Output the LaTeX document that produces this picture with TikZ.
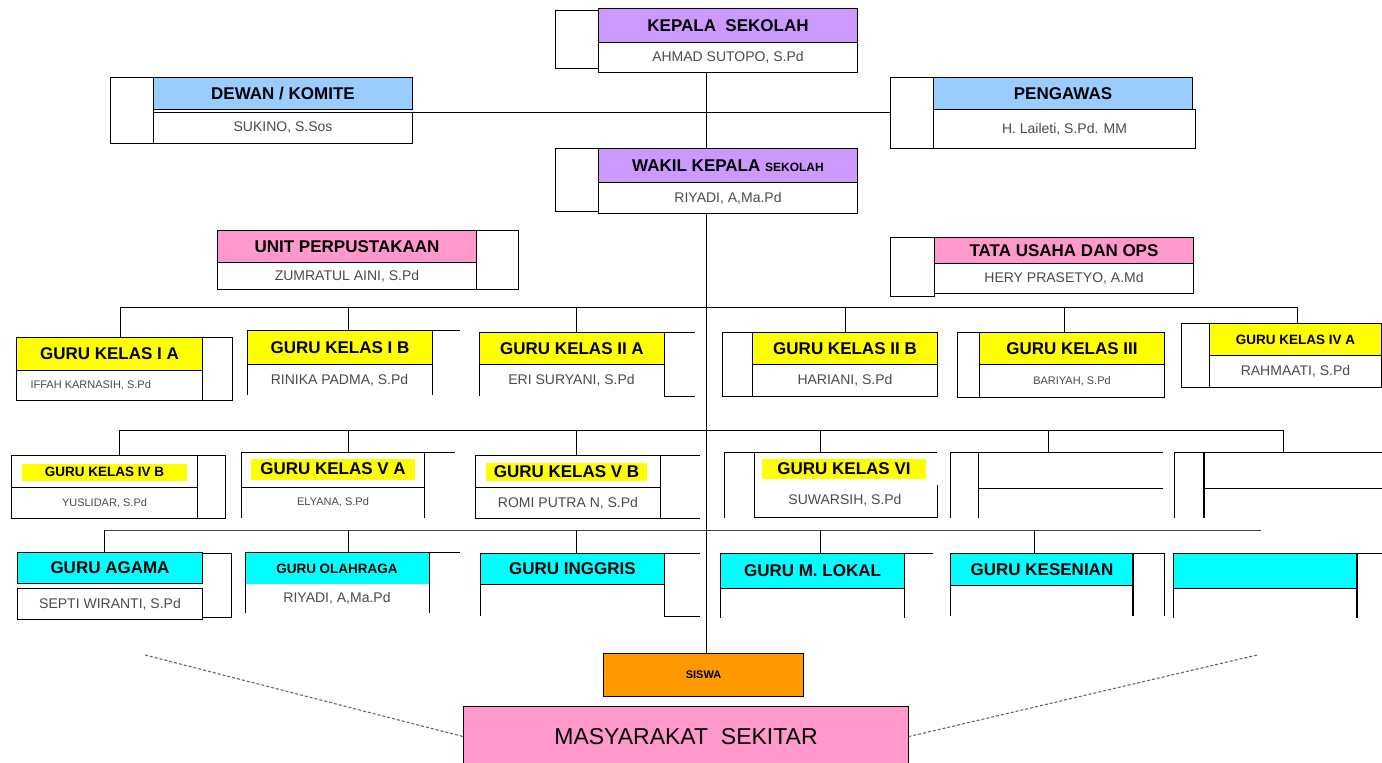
\documentclass[tikz,border=0pt]{standalone}
\usepackage{fontspec}
\setmainfont{Liberation Sans}
\definecolor{purp}{HTML}{CC99FF}
\definecolor{blu}{HTML}{99CCFF}
\definecolor{pnk}{HTML}{FF99CC}
\definecolor{yel}{HTML}{FFFF00}
\definecolor{cyn}{HTML}{00FFFF}
\definecolor{org}{HTML}{FF9900}
\definecolor{namegray}{HTML}{4A4A4A}
\newcommand\obox[7]{\node[bx,#6,minimum width={(#4-#2)*1pt},minimum height={(#5-#3)*1pt}] (#1) at (#2,#3) {#7};}
\begin{document}
\begin{tikzpicture}[x=1pt,y=-1pt,
  ln/.style={line width=1pt},
  thk/.style={line width=2.2pt},
  bx/.style={draw,line width=1pt,inner sep=0pt,anchor=north west,align=center},
  hd/.style={font=\bfseries\fontsize{17}{19}\selectfont},
  hds/.style={font=\bfseries\fontsize{13.5}{15}\selectfont},
  nm/.style={font=\fontsize{14}{16}\selectfont,text=namegray},
  nms/.style={font=\fontsize{11}{12}\selectfont,text=namegray},
  hlt/.style={fill=yel,inner sep=0pt},
  dsh/.style={line width=1.1pt,black!60,dash pattern=on 3pt off 2pt}
]
\useasboundingbox (0,0) rectangle (1382,763);

% ---------- Kepala Sekolah ----------
\obox{kss}{555}{10}{598}{68}{}{}
\obox{kh}{598}{8}{857}{42}{fill=purp,hd}{KEPALA\ \ SEKOLAH}
\obox{kn}{598}{42}{857}{72}{nm}{AHMAD SUTOPO, S.Pd}

% ---------- Wakil ----------
\obox{wss}{555}{148}{598}{211}{}{}
\obox{wh}{598}{148}{857}{182}{fill=purp,hd}{WAKIL KEPALA {\fontsize{12}{14}\selectfont SEKOLAH}}
\obox{wn}{598}{182}{857}{213}{nm}{RIYADI, A,Ma.Pd}

% ---------- Dewan ----------
\obox{dss}{110}{77}{153}{143}{}{}
\obox{dh}{153}{77}{412}{109}{fill=blu,hd}{DEWAN / KOMITE}
\obox{dn}{153}{112}{412}{143}{nm}{SUKINO, S.Sos}

% ---------- Pengawas ----------
\obox{pss}{890}{77}{933}{148}{}{}
\obox{ph}{933}{77}{1192}{109}{fill=blu,hd}{PENGAWAS}
\obox{pn}{933}{109}{1195}{148}{nm}{H. Laileti, S.Pd. MM}

% ---------- Unit Perpustakaan ----------
\obox{uh}{217}{230}{476}{262}{fill=pnk,hd}{UNIT PERPUSTAKAAN}
\obox{un}{217}{262}{476}{289}{nm}{ZUMRATUL AINI, S.Pd}
\obox{uss}{476}{230}{518}{289}{}{}

% ---------- Tata Usaha ----------
\obox{tss}{890}{237}{934}{296}{}{}
\obox{th}{934}{237}{1193}{263}{fill=pnk,hd}{TATA USAHA DAN OPS}
\obox{tn}{934}{263}{1193}{293}{nm}{HERY PRASETYO, A.Md}

% ---------- Top connectors ----------
\coordinate (spine) at (706,0);
\coordinate (hline) at (0,112);
\draw[ln] (kn.south -| spine) -- (wh.north -| spine);
\draw[ln] (dh.east |- hline) -- (pss.west |- hline);

% ---------- Row 1 ----------
\obox{iah}{16}{337}{202}{370}{fill=yel,hd}{GURU KELAS I A}
\obox{ian}{16}{370}{202}{400}{}{}
\node[nms,anchor=west] (iant) at (27,385) {IFFAH KARNASIH, S.Pd};
\obox{ias}{202}{337}{232}{400}{}{}

\obox{ibh}{247}{330}{432}{364}{fill=yel,hd}{GURU KELAS I B}
\node[nm] (ibn) at (339.5,380) {RINIKA PADMA, S.Pd};
\draw[ln] (247,364) -- (247,395);
\draw[ln] (432,364) -- (432,395);
\draw[ln] (432,330) -- (460,330);

\obox{iiah}{479}{332}{664}{364}{fill=yel,hd}{GURU KELAS II A}
\node[nm] (iian) at (571.5,380) {ERI SURYANI, S.Pd};
\draw[ln] (479,364) -- (479,396);
\draw[ln] (664,364) -- (664,396) -- (695,396);
\draw[ln] (664,332) -- (695,332);

\obox{iibs}{722}{332}{752}{396}{}{}
\obox{iibh}{752}{332}{937}{364}{fill=yel,hd}{GURU KELAS II B}
\obox{iibn}{752}{364}{937}{396}{nm}{HARIANI, S.Pd}

\obox{iiis}{957}{332}{979}{397}{}{}
\obox{iiih}{979}{332}{1164}{364}{fill=yel,hd}{GURU KELAS III}
\obox{iiin}{979}{364}{1164}{397}{nms}{BARIYAH, S.Pd}

\obox{ivas}{1181}{323}{1209}{387}{}{}
\obox{ivah}{1209}{323}{1381}{355}{fill=yel,hds}{GURU KELAS IV A}
\obox{ivan}{1209}{355}{1381}{387}{nm}{RAHMAATI, S.Pd}

% bus 1
\coordinate (b1a) at (120,307);
\coordinate (b1b) at (348,307);
\coordinate (b1c) at (576,307);
\coordinate (b1d) at (845,307);
\coordinate (b1e) at (1064,307);
\coordinate (b1f) at (1297,307);
\draw[ln] (b1a) -- (b1f);
\draw[ln] (b1a) -- (b1a |- iah.north);
\draw[ln] (b1b) -- (b1b |- ibh.north);
\draw[ln] (b1c) -- (b1c |- iiah.north);
\draw[ln] (b1d) -- (b1d |- iibh.north);
\draw[ln] (b1e) -- (b1e |- iiih.north);
\draw[ln] (b1f) -- (b1f |- ivah.north);

% ---------- Row 2 ----------
\obox{ivbh}{11}{455}{197}{487}{}{}
\obox{ivbn}{11}{487}{197}{518}{nms}{YUSLIDAR, S.Pd}
\obox{ivbs}{197}{455}{225}{518}{}{}
\node[hlt,hds,minimum width=165pt,minimum height=17pt] (ivbt) at (104.5,472) {GURU KELAS IV B};

\draw[ln] (241,518) -- (241,452) -- (455,452);
\draw[ln] (424,452) -- (424,518);
\draw[ln] (241,487) -- (424,487);
\coordinate (vatop) at (348,452);
\node[hlt,hd,minimum width=164pt,minimum height=21pt] (vat) at (333,469) {GURU KELAS V A};
\node[nms] (van) at (333,502) {ELYANA, S.Pd};

\obox{vbh}{475}{455}{660}{487}{}{}
\obox{vbn}{475}{487}{660}{518}{nm}{ROMI PUTRA N, S.Pd}
\draw[ln] (660,455) -- (700,455);
\draw[ln] (660,518) -- (700,518);
\node[hlt,hd,minimum width=161pt,minimum height=18pt] (vbt) at (566.5,471.5) {GURU KELAS V B};

\draw[ln] (724,518) -- (724,452) -- (937,452);
\draw[ln] (754,452) -- (754,517) -- (937,517) -- (937,485);
\coordinate (vitop) at (820,452);
\node[hlt,hd,minimum width=164pt,minimum height=20pt] (vit) at (844,469) {GURU KELAS VI};
\node[nm] (vin) at (845,500) {SUWARSIH, S.Pd};

\draw[ln] (950,518) -- (950,452) -- (1163,452);
\draw[ln] (978,452) -- (978,518);
\draw[ln] (978,488) -- (1163,488);
\coordinate (e1top) at (1048,452);

\draw[ln] (1174,518) -- (1174,452) -- (1382,452);
\draw[thk] (1204,452) -- (1204,518);
\draw[ln] (1204,488) -- (1382,488);
\coordinate (e2top) at (1283,452);

% bus 2
\coordinate (b2a) at (119,430);
\coordinate (b2c) at (576,430);
\coordinate (b2z) at (1283,430);
\draw[ln] (b2a) -- (b2z) -- (e2top);
\draw[ln] (b2a) -- (b2a |- ivbh.north);
\draw[ln] (vatop |- b2a) -- (vatop);
\draw[ln] (b2c) -- (b2c |- vbh.north);
\draw[ln] (vitop |- b2a) -- (vitop);
\draw[ln] (e1top |- b2a) -- (e1top);

% ---------- Row 3 ----------
\obox{agh}{17}{552}{202}{583}{fill=cyn,hd}{GURU AGAMA}
\obox{agn}{17}{588}{202}{619}{nm}{SEPTI WIRANTI, S.Pd}
\draw[ln] (202,553) -- (231,553) -- (231,617) -- (202,617);

\fill[cyn] (245,552) rectangle (429,584);
\node[hds] (olt) at (337,569) {GURU OLAHRAGA};
\node[nm] (oln) at (337,598) {RIYADI, A,Ma.Pd};
\draw[ln] (245,613) -- (245,552) -- (460,552);
\draw[ln] (429,552) -- (429,613);
\coordinate (oltop) at (348,552);

\obox{igh}{480}{553}{664}{584}{fill=cyn,hd}{GURU INGGRIS}
\draw[ln] (480,584) -- (480,616);
\draw[ln] (664,584) -- (664,616) -- (700,616);
\draw[ln] (664,553) -- (700,553);

\obox{mlh}{720}{553}{904}{588}{fill=cyn,hd}{GURU M. LOKAL}
\draw[ln] (720,588) -- (720,618);
\draw[ln] (904,588) -- (904,618);
\draw[ln] (904,553) -- (933,553);

\obox{ksh}{950}{553}{1133}{585}{fill=cyn,hd}{GURU KESENIAN}
\draw[ln] (950,585) -- (950,616);
\draw[thk] (1133,553) -- (1133,616);
\draw[ln] (1133,553) -- (1164,553) -- (1164,616);

\obox{bch}{1173}{553}{1357}{588}{fill=cyn}{}
\draw[ln] (1173,588) -- (1173,618);
\draw[thk] (1357,553) -- (1357,618);
\draw[ln] (1357,553) -- (1382,553);

% bus 3
\coordinate (b3a) at (104,530);
\coordinate (b3c) at (576,530);
\coordinate (b3d) at (820,530);
\coordinate (b3e) at (1034,530);
\coordinate (b3z) at (1261,530);
\draw[ln,black!75] (b3a) -- (b3z);
\draw[ln] (b3a) -- (b3a |- agh.north);
\draw[ln] (oltop |- b3a) -- (oltop);
\draw[ln] (b3c) -- (b3c |- igh.north);
\draw[ln] (b3d) -- (b3d |- mlh.north);
\draw[ln] (b3e) -- (b3e |- ksh.north);

% ---------- Bottom ----------
\obox{sis}{603}{653}{803}{696}{fill=org,font=\bfseries\fontsize{11}{13}\selectfont}{SISWA}
\obox{mas}{463}{706}{908}{766}{fill=pnk,font=\fontsize{23}{26}\selectfont}{MASYARAKAT\ \ SEKITAR}

\draw[ln] (wn.south -| spine) -- (sis.north -| spine);

\coordinate (dl) at (145,655);
\coordinate (dr) at (1257,655);
\draw[dsh] (dl) -- (mas.west);
\draw[dsh] (dr) -- (mas.east);
\end{tikzpicture}
\end{document}
